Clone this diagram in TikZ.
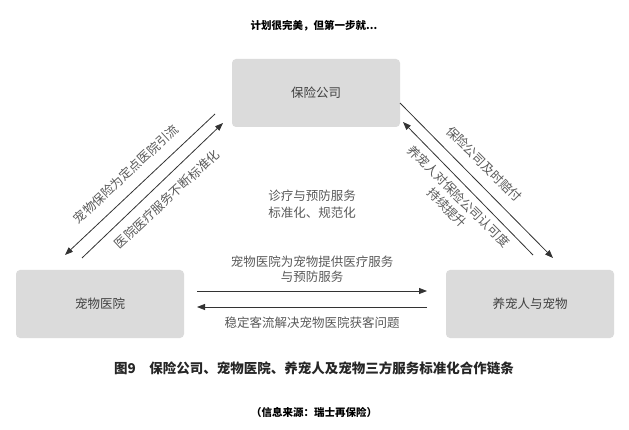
\documentclass[tikz,border=0pt]{standalone}
\usepackage{fontspec}
\setmainfont{Noto Sans CJK SC}
\usetikzlibrary{arrows.meta}
\begin{document}
\begin{tikzpicture}[x=1pt,y=-1pt,
  box/.style={fill=gray!28,rounded corners=4pt,minimum width=168pt,minimum height=68pt,text=black!75,font=\fontsize{12.5}{14}\selectfont},
  lab/.style={text=black!65,font=\fontsize{12.5}{14}\selectfont,align=center,inner sep=0pt},
  arr/.style={draw=black!80,line width=0.8pt,-{Triangle[length=8pt,width=6pt]}},
  head/.style={font=\fontsize{10.5}{12}\selectfont\bfseries,text=black}]
\useasboundingbox (0,0) rectangle (629,430);
\node[head] (title) at (314,26) {计划很完美，但第一步就...};
\node[box] (ins) at (316,93) {保险公司};
\node[box] (hos) at (100,304) {宠物医院};
\node[box] (own) at (530,304) {养宠人与宠物};
\coordinate (a1) at (215,114); \coordinate (a2) at (65,255);
\coordinate (b1) at (82,258); \coordinate (b2) at (223,123);
\coordinate (c1) at (400,103); \coordinate (c2) at (553,258);
\coordinate (d1) at (533,255); \coordinate (d2) at (403,122);
\coordinate (e1) at (197,291); \coordinate (e2) at (427,291);
\coordinate (f1) at (427,307); \coordinate (f2) at (197,307);
\draw[arr] (a1) -- (a2);
\draw[arr] (b1) -- (b2);
\draw[arr] (c1) -- (c2);
\draw[arr] (d1) -- (d2);
\draw[arr] (e1) -- (e2);
\draw[arr] (f1) -- (f2);
\node[lab,rotate=43] (l1) at (126,174) {宠物保险为定点医院引流};
\node[lab,rotate=43] (l2) at (167,199) {医院医疗服务不断标准化};
\node[lab,rotate=-45] (l3) at (484,164) {保险公司及时赔付};
\node[lab,rotate=-45] (l4) at (453,202) {养宠人对保险公司认可度\\[2pt]持续提升};
\node[lab] (l5) at (312,204) {诊疗与预防服务\\[3pt]标准化、规范化};
\node[lab] (l6) at (312,269) {宠物医院为宠物提供医疗服务\\[1pt]与预防服务};
\node[lab] (l7) at (312,323) {稳定客流解决宠物医院获客问题};
\node[font=\fontsize{13.5}{15}\selectfont\bfseries,text=black!85] (cap) at (314,368) {图9\quad 保险公司、宠物医院、养宠人及宠物三方服务标准化合作链条};
\node[head] (src) at (314,412) {（信息来源：瑞士再保险）};
\end{tikzpicture}
\end{document}
